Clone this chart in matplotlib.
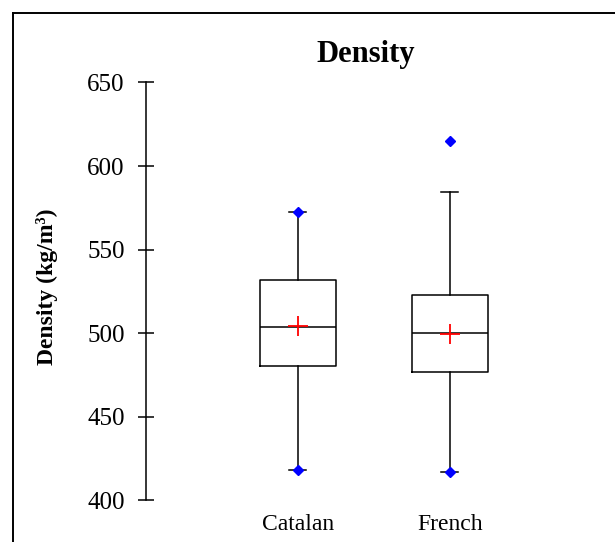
import matplotlib
matplotlib.use('Agg')
import matplotlib.pyplot as plt
from matplotlib.lines import Line2D

groups = ['Catalan', 'French']
q1 = [480.6, 476.7]
medians = [503.8, 500.0]
q3 = [531.7, 523.1]
whis_lo = [418.2, 416.9]
whis_hi = [572.4, 584.7]
means = [504.5, 499.4]
minimum = [418.2, 416.9]
maximum = [572.4, 615.0]
yticks = [400, 450, 500, 550, 600, 650]

plt.rcParams['font.family'] = ['Liberation Serif', 'DejaVu Serif']

fig = plt.figure(figsize=(6.15, 5.42), dpi=100)
ax = fig.add_axes([0.2369, 0.0766, 0.7415, 0.7712])

stats = []
for i in range(len(groups)):
    stats.append({'label': groups[i], 'q1': q1[i], 'med': medians[i], 'q3': q3[i],
                  'whislo': whis_lo[i], 'whishi': whis_hi[i], 'mean': means[i], 'fliers': []})

pos = [1, 2]
ax.bxp(stats, positions=pos, widths=0.5, capwidths=0.11, showfliers=False, showmeans=True,
       boxprops=dict(color='black', linewidth=1.1),
       medianprops=dict(color='black', linewidth=1.1),
       whiskerprops=dict(color='black', linewidth=1.1),
       capprops=dict(color='black', linewidth=1.1),
       meanprops=dict(marker='+', markeredgecolor='red', markersize=14, markeredgewidth=1.3))

# min / max as blue diamonds
ax.plot(pos, minimum, linestyle='none', marker='D', color='blue', markersize=5.5, zorder=5)
ax.plot(pos, maximum, linestyle='none', marker='D', color='blue', markersize=5.5, zorder=5)

ax.set_xlim(0, 3)
ax.set_ylim(400, 650)
ax.set_yticks(yticks)
ax.set_xticks(pos)
ax.set_xticklabels(groups)
for s in ['top', 'right', 'bottom']:
    ax.spines[s].set_visible(False)
ax.spines['left'].set_linewidth(1.1)
ax.tick_params(axis='y', direction='inout', length=12, width=1.1, labelsize=18, pad=9)
ax.tick_params(axis='x', length=0, labelsize=17, pad=10)

fig.text(0.595, 1 - 62 / 542, 'Density', ha='center', va='baseline', fontsize=22, fontweight='bold')
fig.text(47 / 615, 1 - 287 / 542, 'Density (kg/m³)', ha='center', va='center', rotation=90,
         fontsize=17, fontweight='bold')

# outer frame
fx = 13 / 615
fy = 1 - 12.5 / 542
fig.add_artist(Line2D([fx, 1], [fy, fy], color='black', linewidth=1.4, transform=fig.transFigure))
fig.add_artist(Line2D([fx, fx], [0, fy], color='black', linewidth=1.4, transform=fig.transFigure))

fig.savefig('out.png', dpi=100)
